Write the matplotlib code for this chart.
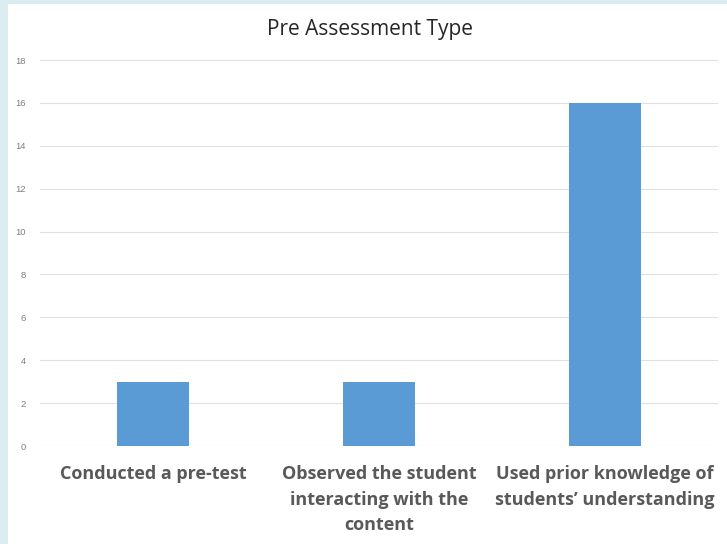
import matplotlib
matplotlib.use("Agg")
import matplotlib.pyplot as plt
from matplotlib.patches import Rectangle

categories = [
    "Conducted a pre-test",
    "Observed the student\ninteracting with the\ncontent",
    "Used prior knowledge of\nstudents\u2019 understanding",
]
counts = [3, 3, 16]
y_ticks = [0, 2, 4, 6, 8, 10, 12, 14, 16, 18]

W, H = 727, 544
fig = plt.figure(figsize=(W / 100, H / 100), dpi=100)
fig.patch.set_facecolor("white")

# light blue frame along the left and top edges
frame_color = "#DCEDF1"
fig.patches.append(Rectangle((0, 0), 8 / W, 1, transform=fig.transFigure,
                             facecolor=frame_color, edgecolor="none", zorder=0))
fig.patches.append(Rectangle((0, 1 - 4 / H), 1, 4 / H, transform=fig.transFigure,
                             facecolor=frame_color, edgecolor="none", zorder=0))

left, right = 40 / W, 718 / W
bottom, top = (H - 446) / H, (H - 60) / H
ax = fig.add_axes([left, bottom, right - left, top - bottom])

x = list(range(len(categories)))
ax.bar(x, counts, width=0.32, color="#5B9BD5", zorder=3)

ax.set_xlim(-0.5, len(categories) - 0.5)
ax.set_ylim(0, 18)
ax.set_yticks(y_ticks)
ax.set_yticklabels([str(v) for v in y_ticks], fontsize=6.8, color="#808080",
                   family="Liberation Sans")
ax.yaxis.grid(True, color="#E0E0E0", linewidth=0.8, zorder=0)
ax.tick_params(axis="both", length=0, pad=10)
for s in ax.spines.values():
    s.set_visible(False)

ax.set_xticks(x)
ax.set_xticklabels(categories, fontsize=13, fontweight="bold", color="#595959",
                   family="Open Sans", linespacing=1.52)
ax.tick_params(axis="x", pad=14)

fig.text(370 / W, 1 - 30 / H, "Pre Assessment Type", ha="center", va="center",
         fontsize=15, color="#262626", family="Open Sans")

fig.savefig("out.png", dpi=100)
